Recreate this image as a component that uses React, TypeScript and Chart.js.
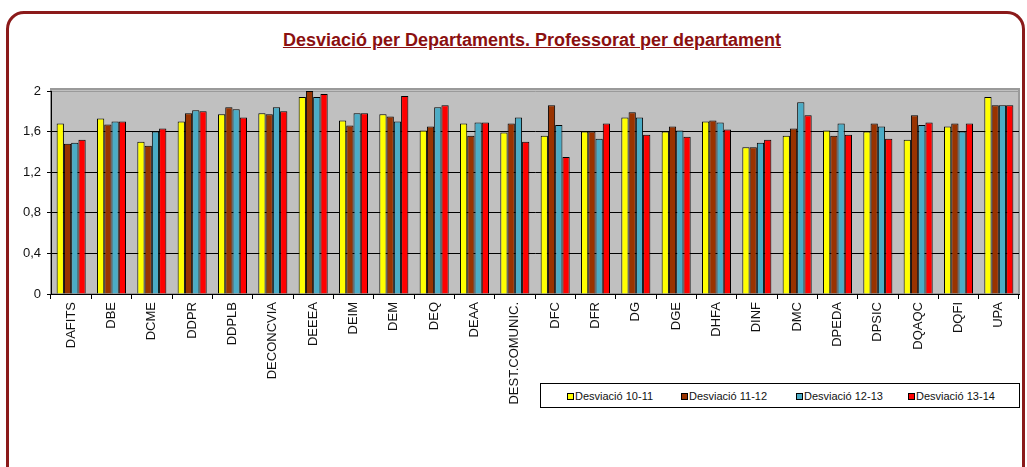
import React, { useEffect, useRef } from "react";
import { Chart, registerables } from "chart.js";

Chart.register(...registerables);

const categories = [
  "DAFITS", "DBE", "DCME", "DDPR", "DDPLB", "DECONCVIA", "DEEEA", "DEIM",
  "DEM", "DEQ", "DEAA", "DEST.COMUNIC.", "DFC", "DFR", "DG", "DGE",
  "DHFA", "DINF", "DMC", "DPEDA", "DPSIC", "DQAQC", "DQFI", "UPA",
];

const desv1011 = [1.68, 1.73, 1.5, 1.7, 1.77, 1.78, 1.94, 1.71, 1.77, 1.61, 1.68, 1.59, 1.56, 1.6, 1.74, 1.6, 1.7, 1.445, 1.56, 1.61, 1.6, 1.52, 1.65, 1.94];
const desv1112 = [1.48, 1.67, 1.46, 1.78, 1.84, 1.77, 2.0, 1.66, 1.75, 1.65, 1.56, 1.68, 1.86, 1.6, 1.79, 1.65, 1.71, 1.445, 1.63, 1.56, 1.68, 1.76, 1.68, 1.86];
const desv1213 = [1.49, 1.7, 1.6, 1.81, 1.82, 1.84, 1.94, 1.78, 1.7, 1.84, 1.69, 1.74, 1.665, 1.53, 1.74, 1.61, 1.69, 1.49, 1.89, 1.68, 1.65, 1.665, 1.6, 1.86];
const desv1314 = [1.52, 1.7, 1.63, 1.8, 1.74, 1.8, 1.97, 1.78, 1.95, 1.86, 1.69, 1.5, 1.35, 1.68, 1.57, 1.55, 1.62, 1.52, 1.76, 1.57, 1.53, 1.69, 1.68, 1.86];

const seriesLabels = ["Desviació 10-11", "Desviació 11-12", "Desviació 12-13", "Desviació 13-14"];
const seriesColors = ["#FFFF00", "#993300", "#4BACC6", "#FF0000"];
const yTicks = [0, 0.4, 0.8, 1.2, 1.6, 2];

const FONT = "'Liberation Sans', Arial, sans-serif";

const plotBg = {
  id: "plotBg",
  beforeDraw(chart: any) {
    const { ctx, chartArea } = chart;
    const { left, top, right, bottom } = chartArea;
    ctx.save();
    ctx.fillStyle = "#C0C0C0";
    ctx.fillRect(left, top - 2, right - left, bottom - top + 2);
    ctx.strokeStyle = "#9a9a9a";
    ctx.lineWidth = 2;
    ctx.strokeRect(left, top - 2, right - left, bottom - top + 2);
    ctx.restore();
  },
};

function App() {
  const canvasRef = useRef<HTMLCanvasElement | null>(null);

  useEffect(() => {
    if (!canvasRef.current) return;
    const data = [desv1011, desv1112, desv1213, desv1314];
    const chart = new Chart(canvasRef.current, {
      type: "bar",
      data: {
        labels: categories,
        datasets: data.map((d, i) => ({
          label: seriesLabels[i],
          data: d,
          backgroundColor: seriesColors[i],
          borderColor: "#000",
          borderWidth: 1,
          categoryPercentage: 0.72,
          barPercentage: 1.0,
        })),
      },
      options: {
        animation: false,
        responsive: false,
        maintainAspectRatio: false,
        layout: { padding: { top: 91, right: 8, left: 0, bottom: 0 } },
        plugins: {
          legend: { display: false },
          tooltip: { enabled: false },
          title: { display: false },
        },
        scales: {
          x: {
            grid: {
              display: true,
              drawOnChartArea: false,
              drawTicks: true,
              tickLength: 5,
              color: "#000",
              offset: true,
            },
            border: { display: true, color: "#000", width: 1 },
            ticks: {
              minRotation: 90,
              maxRotation: 90,
              autoSkip: false,
              color: "#111",
              padding: 3,
              font: { family: FONT, size: 13 },
            },
            afterFit: (s: any) => {
              s.height = 173;
            },
          },
          y: {
            min: 0,
            max: 2,
            afterBuildTicks: (s: any) => {
              s.ticks = yTicks.map((v) => ({ value: v }));
            },
            ticks: {
              color: "#111",
              padding: 6,
              font: { family: FONT, size: 13 },
              callback: (v: any) => String(Number(Number(v).toFixed(1))).replace(".", ","),
            },
            grid: {
              color: (c: any) => (c.tick && c.tick.value === 2 ? "#9a9a9a" : "#000"),
              tickLength: 4,
              tickColor: "#000",
              lineWidth: 1,
            },
            border: { display: true, color: "#000", width: 1 },
            afterFit: (s: any) => {
              s.width = 51;
            },
          },
        },
      },
      plugins: [plotBg],
    });
    return () => chart.destroy();
  }, []);

  return (
    <div
      style={{
        position: "fixed",
        left: 0,
        top: 0,
        width: 1027,
        height: 467,
        overflow: "hidden",
        background: "#fff",
        fontFamily: FONT,
      }}
    >
      <div
        style={{
          position: "absolute",
          left: 6,
          top: 11,
          width: 1019,
          height: 490,
          border: "3px solid #8B1A1A",
          borderRadius: 18,
          boxSizing: "border-box",
        }}
      />
      <div
        style={{
          position: "absolute",
          left: 532,
          top: 30,
          transform: "translateX(-50%)",
          whiteSpace: "nowrap",
          fontWeight: "bold",
          fontSize: 18,
          color: "#8B1010",
          textDecoration: "underline",
          fontFamily: FONT,
        }}
      >
        Desviació per Departaments. Professorat per departament
      </div>
      <canvas
        ref={canvasRef}
        width={1027}
        height={467}
        style={{ position: "absolute", left: 0, top: 0, width: 1027, height: 467 }}
      />
      <div
        style={{
          position: "absolute",
          left: 540,
          top: 383,
          width: 480,
          height: 25,
          border: "1px solid #000",
          boxSizing: "border-box",
          background: "#fff",
        }}
      />
      {seriesLabels.map((lab, i) => {
        const xs = [567, 681, 796, 908];
        return (
          <div
            key={lab}
            style={{
              position: "absolute",
              left: xs[i],
              top: 389,
              height: 14,
              display: "flex",
              alignItems: "center",
              fontSize: 11,
              color: "#111",
              whiteSpace: "nowrap",
              fontFamily: FONT,
            }}
          >
            <span
              style={{
                display: "inline-block",
                width: 5,
                height: 5,
                border: "1px solid #000",
                background: seriesColors[i],
                marginRight: 1,
              }}
            />
            {lab}
          </div>
        );
      })}
    </div>
  );
}

export default App;
